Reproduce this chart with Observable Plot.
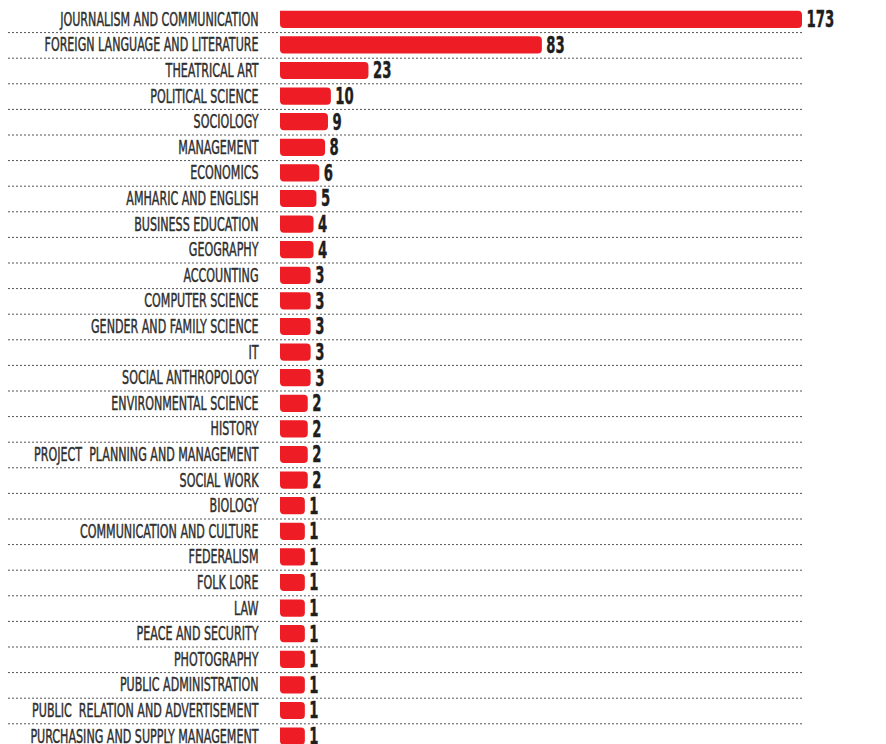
<!DOCTYPE html>
<html>
<head>
<meta charset="utf-8">
<script src="https://cdn.jsdelivr.net/npm/d3@7"></script>
<script src="https://cdn.jsdelivr.net/npm/@observablehq/plot@0.6"></script>
<style>
  html, body { margin: 0; padding: 0; background: #fff; overflow: hidden; }
  #chart svg { display: block; }
  #chart text { white-space: pre; }
</style>
</head>
<body>
<div id="chart"></div>
<script>
const categories = [
  "JOURNALISM AND COMMUNICATION",
  "FOREIGN LANGUAGE AND LITERATURE",
  "THEATRICAL ART",
  "POLITICAL SCIENCE",
  "SOCIOLOGY",
  "MANAGEMENT",
  "ECONOMICS",
  "AMHARIC AND ENGLISH",
  "BUSINESS EDUCATION",
  "GEOGRAPHY",
  "ACCOUNTING",
  "COMPUTER SCIENCE",
  "GENDER AND FAMILY SCIENCE",
  "IT",
  "SOCIAL ANTHROPOLOGY",
  "ENVIRONMENTAL SCIENCE",
  "HISTORY",
  "PROJECT  PLANNING AND MANAGEMENT",
  "SOCIAL WORK",
  "BIOLOGY",
  "COMMUNICATION AND CULTURE",
  "FEDERALISM",
  "FOLK LORE",
  "LAW",
  "PEACE AND SECURITY",
  "PHOTOGRAPHY",
  "PUBLIC ADMINISTRATION",
  "PUBLIC  RELATION AND ADVERTISEMENT",
  "PURCHASING AND SUPPLY MANAGEMENT"
];
const values = [173, 83, 23, 10, 9, 8, 6, 5, 4, 4, 3, 3, 3, 3, 3, 2, 2, 2, 2, 1, 1, 1, 1, 1, 1, 1, 1, 1, 1];

// scale start below zero so even the smallest bar shows a stub
const xStart = -7.6;
const xEnd = 173;

const data = categories.map((c, i) => ({ name: c, value: values[i] }));

const RED = "#ee1d25";
const labelFont = "'DejaVu Sans Condensed', 'DejaVu Sans', sans-serif";

const step = 25.6;
const chart = Plot.plot({
  width: 886,
  height: 744,
  marginLeft: 280,
  marginRight: 84,
  marginTop: 0,
  marginBottom: 0,
  style: { background: "#fff", overflow: "hidden" },
  x: { domain: [xStart, xEnd], axis: null },
  y: {
    domain: categories,
    range: [6.5, 6.5 + step * categories.length],
    paddingInner: 0.33,
    paddingOuter: 0.165,
    round: false,
    axis: null
  },
  marks: [
    Plot.ruleY(data, {
      y: "name",
      dy: step / 2,
      stroke: "#555",
      strokeWidth: 1,
      strokeDasharray: "2,2",
      insetLeft: -272
    }),
    Plot.barX(data, {
      y: "name",
      x1: () => xStart,
      x2: "value",
      fill: RED,
      rx2: 4,
      ry2: 4
    }),
    Plot.text(data, {
      y: "name",
      text: "name",
      frameAnchor: "left",
      textAnchor: "end",
      dx: -22,
      fill: "#2f2f2f",
      stroke: "#2f2f2f",
      strokeWidth: 0.45,
      fontSize: 19,
      fontFamily: labelFont,
      className: "cat-label"
    }),
    Plot.text(data, {
      y: "name",
      x: "value",
      text: d => String(d.value),
      textAnchor: "start",
      dx: 4,
      fill: "#1e1e1e",
      stroke: "#1e1e1e",
      strokeWidth: 0.4,
      fontSize: 23,
      fontWeight: "bold",
      fontFamily: labelFont,
      className: "val-label"
    })
  ]
});

document.getElementById("chart").appendChild(chart);

// condense the type to mimic the narrow display face
function condense(selector, factor) {
  chart.querySelectorAll(selector + " text").forEach(t => {
    const len = t.getComputedTextLength();
    t.setAttribute("textLength", (len * factor).toFixed(1));
    t.setAttribute("lengthAdjust", "spacingAndGlyphs");
  });
}
condense(".cat-label", 0.65);
condense(".val-label", 0.64);
</script>
</body>
</html>
